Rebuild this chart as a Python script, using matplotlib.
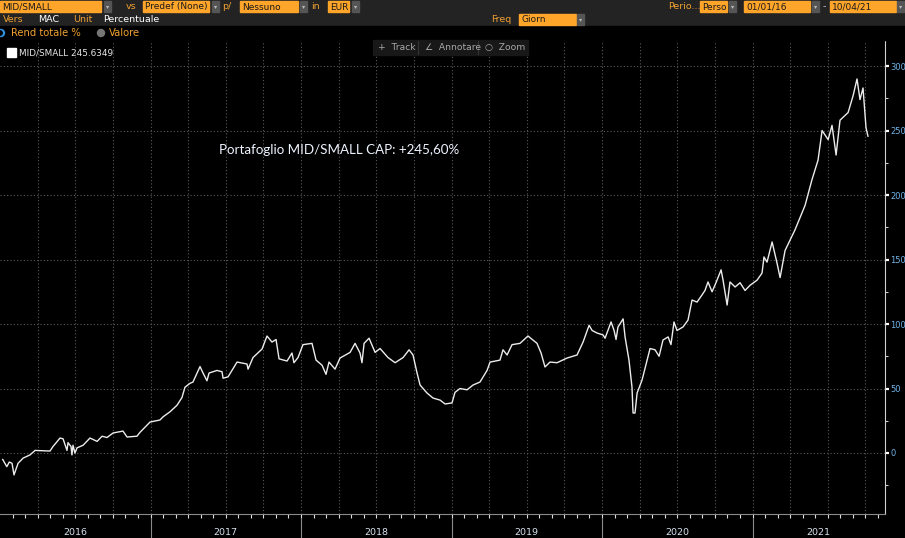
import matplotlib
matplotlib.use('Agg')
import matplotlib.pyplot as plt
import matplotlib.transforms as mtransforms
from matplotlib.patches import Rectangle, Circle
import numpy as np

# serie MID/SMALL, rendimento totale % (anni decimali)
anni = [2016.018, 2016.045, 2016.062, 2016.080, 2016.093, 2016.120, 2016.153, 2016.199,
        2016.233, 2016.332, 2016.352, 2016.399, 2016.419, 2016.445, 2016.452, 2016.472,
        2016.478, 2016.485, 2016.498, 2016.512, 2016.552, 2016.598, 2016.645, 2016.678,
        2016.711, 2016.751, 2016.817, 2016.844, 2016.910, 2016.930, 2016.997,
        2017.063, 2017.083, 2017.130, 2017.176, 2017.209, 2017.229, 2017.262, 2017.282,
        2017.329, 2017.349, 2017.375, 2017.389, 2017.442, 2017.475, 2017.482, 2017.515,
        2017.575, 2017.641, 2017.648, 2017.681, 2017.741, 2017.774, 2017.807, 2017.834,
        2017.854, 2017.907, 2017.940, 2017.953, 2017.980,
        2018.013, 2018.073, 2018.100, 2018.140, 2018.166, 2018.186, 2018.226, 2018.259,
        2018.326, 2018.359, 2018.392, 2018.405, 2018.419, 2018.452, 2018.492, 2018.525,
        2018.578, 2018.625, 2018.678, 2018.718, 2018.744, 2018.771, 2018.791, 2018.837,
        2018.877, 2018.924, 2018.957,
        2019.003, 2019.023, 2019.056, 2019.103, 2019.143, 2019.189, 2019.236, 2019.256,
        2019.322, 2019.342, 2019.369, 2019.402, 2019.455, 2019.508, 2019.568, 2019.595,
        2019.621, 2019.654, 2019.701, 2019.767, 2019.834, 2019.874, 2019.914, 2019.934,
        2019.967,
        2020.007, 2020.020, 2020.060, 2020.080, 2020.093, 2020.106, 2020.140, 2020.153,
        2020.179, 2020.199, 2020.206, 2020.219, 2020.233, 2020.266, 2020.299, 2020.319,
        2020.352, 2020.379, 2020.405, 2020.439, 2020.458, 2020.478, 2020.498, 2020.538,
        2020.571, 2020.598, 2020.631, 2020.664, 2020.684, 2020.704, 2020.731, 2020.757,
        2020.791, 2020.804, 2020.831, 2020.850, 2020.884, 2020.917, 2020.950, 2020.983,
        2021.030, 2021.063, 2021.076, 2021.096, 2021.130, 2021.163, 2021.183, 2021.216,
        2021.282, 2021.349, 2021.395, 2021.435, 2021.462, 2021.502, 2021.528, 2021.555,
        2021.581, 2021.635, 2021.668, 2021.694, 2021.714, 2021.734, 2021.754, 2021.767]
rendimento = [-5, -10.6, -7, -8, -17, -8, -4, -1.5,
              2, 1.5, 5, 11.6, 11, 2, 8, 5,
              -1.5, 6, 0, 4, 6, 11.6, 9, 13,
              12, 15.5, 17, 12.4, 13, 16, 24,
              25.6, 28, 32, 37, 43, 51, 54, 55,
              67, 62, 56, 62, 64, 63, 58, 59,
              70.5, 69, 65, 74, 80.6, 90.7, 86, 88,
              73, 71.3, 77.5, 70, 74,
              84, 85, 72, 68, 61, 70.5, 65, 73.6,
              78, 85, 77.5, 70, 85, 89, 78, 81,
              74, 70, 74, 80, 76, 62, 52.7, 46.5,
              42.6, 41, 38,
              38.8, 47, 50, 49, 52.7, 55, 64, 70.5,
              72, 80, 76, 84, 85, 90.7, 85, 77.5,
              66.7, 70.5, 70, 73.6, 76, 86, 99, 95,
              93,
              91.5, 89, 101.6, 95, 88, 97.7, 104, 90,
              72, 51, 31, 31, 46.5, 56.6, 72, 81,
              80, 75, 87.6, 90, 84, 101.6, 95, 97.7,
              103, 118.6, 117, 122.5, 126, 132.6, 125, 132,
              142, 134, 114.7, 132.6, 128.7, 132, 126, 130,
              134, 139.5, 152, 148, 163.6, 147, 136, 157,
              173, 192, 212, 227, 250, 243, 254, 231,
              258, 264, 277, 290, 274, 283, 252, 245.6]

anni_etichette = ['2016', '2017', '2018', '2019', '2020', '2021']
y_ticks = [0, 50, 100, 150, 200, 250, 300]

ARANCIO = '#ffa52a'
TESTO_AR = '#f0a030'

fig = plt.figure(figsize=(9.05, 5.38), dpi=100, facecolor='black')

# area del grafico
ax = fig.add_axes([0.0, 1 - 514 / 538, 885 / 905, 474 / 538], facecolor='black')
ax.plot(anni, rendimento, color='#ececec', linewidth=1.0, zorder=3)
ax.set_xlim(2016.0, 2021.88)
ax.set_ylim(-47.3, 320.2)

ax.yaxis.tick_right()
ax.set_yticks(y_ticks)
ax.set_yticks(np.arange(-25, 325, 50), minor=True)
ax.tick_params(axis='y', which='major', direction='out', length=3, width=1.6,
               color='white', labelcolor='#6fb2e6', labelsize=6.0, pad=1)
ax.tick_params(axis='y', which='minor', direction='out', length=2, width=0.8, color='#cccccc')
for lab in ax.get_yticklabels():
    lab.set_family('DejaVu Sans Condensed')

ax.set_xticks(np.arange(2016.25, 2021.88, 0.25))
ax.set_xticks(np.arange(2016 + 1 / 12, 2021.88, 1 / 12), minor=True)
ax.tick_params(axis='x', which='both', direction='out', length=3, width=0.8,
               color='#dddddd', labelbottom=False)
ax.grid(True, which='major', color='#5a5a5a', linestyle=(0, (1, 2)), linewidth=0.8)

for lato in ['top', 'left']:
    ax.spines[lato].set_visible(False)
ax.spines['right'].set_color('#d0d0d0')
ax.spines['bottom'].set_color('#8a8a8a')

# separatori e etichette degli anni
trans = mtransforms.blended_transform_factory(ax.transData, ax.transAxes)
for i, et in enumerate(anni_etichette):
    inizio = 2016 + i
    fine = min(inizio + 1, 2021.88)
    if i > 0:
        ax.plot([inizio, inizio], [-0.009, -0.06], color='#8a8a8a', linewidth=0.8,
                transform=trans, clip_on=False)
    ax.text((inizio + fine) / 2, -0.038, et, transform=trans, ha='center', va='center',
            color='#d6e2ee', fontsize=6.8)

# annotazione
ax.text(2017.455, 235, 'Portafoglio MID/SMALL CAP: +245,60%', color='#eef4ff',
        fontsize=9.6, family='Lato', va='center', ha='left')

# overlay in pixel per intestazione, legenda e barra strumenti
ov = fig.add_axes([0, 0, 1, 1], facecolor='none')
ov.set_xlim(0, 905)
ov.set_ylim(538, 0)
ov.axis('off')

ov.add_patch(Rectangle((0, 0), 905, 26, color='#232323', zorder=1))
ov.add_patch(Rectangle((0, 26), 905, 14, color='black', zorder=1))

def box(x, w, testo, y=1, h=11):
    ov.add_patch(Rectangle((x, y), w, h, color=ARANCIO, zorder=2))
    ov.text(x + 2, y + h / 2 + 0.5, testo, color='#1a1a1a', fontsize=6.5,
            va='center', ha='left', zorder=3)

def tendina(x, y=1, h=11):
    ov.add_patch(Rectangle((x, y), 7, h, color='#555555', zorder=2))
    ov.text(x + 3.5, y + h / 2, '▾', color='#bbbbbb', fontsize=4.5,
            va='center', ha='center', zorder=3)

def etichetta(x, y, testo, colore=TESTO_AR, size=6.8):
    ov.text(x, y, testo, color=colore, fontsize=size, va='center', ha='left', zorder=3)

# riga 1
box(0, 101, 'MID/SMALL')
tendina(104)
etichetta(126, 6.5, 'vs')
box(143, 66, 'Predef (None)')
tendina(212)
etichetta(222, 6.5, 'p/')
box(240, 58, 'Nessuno')
tendina(300)
etichetta(311, 6.5, 'in')
box(328, 21, 'EUR')
tendina(352)
etichetta(668, 6.5, 'Perio...')
box(700, 27, 'Perso')
tendina(729)
box(744, 66, '01/01/16')
tendina(812)
etichetta(823, 6.5, '-', colore='#cccccc')
box(830, 66, '10/04/21')
tendina(897)

# riga 2
etichetta(3, 19.5, 'Vers')
etichetta(38, 19.5, 'MAC', colore='white')
etichetta(73, 19.5, 'Unit')
etichetta(103, 19.5, 'Percentuale', colore='white')
etichetta(491, 19.5, 'Freq')
box(519, 57, 'Giorn', y=14, h=11)
tendina(577, y=14)

# riga 3
ov.add_patch(Circle((1, 33), 3.5, color='#2f8fe0', zorder=2))
ov.add_patch(Circle((0, 33), 2.2, color='black', zorder=3))
etichetta(11, 33, 'Rend totale %', size=7.2)
ov.add_patch(Circle((101, 33), 3.5, color='#777777', zorder=2))
etichetta(109, 33, 'Valore', size=7.2)

# legenda
ov.add_patch(Rectangle((7, 48), 9, 9, color='white', zorder=4))
etichetta(19, 53, 'MID/SMALL 245.6349', colore='#e6e6e6', size=6.4)

# barra strumenti
ov.add_patch(Rectangle((373, 40), 155, 15, color='#181818', zorder=4))
for xs in [418, 478]:
    ov.plot([xs, xs], [41, 54], color='#333333', linewidth=0.8, zorder=5)
etichetta(378, 47.5, '+  Track', colore='#a8a8a8', size=6.6)
etichetta(425, 47.5, '∠  Annotare', colore='#a8a8a8', size=6.6)
etichetta(485, 47.5, '○  Zoom', colore='#a8a8a8', size=6.6)
for t in ov.texts[-3:]:
    t.set_zorder(6)

plt.savefig('out.png', dpi=100, facecolor='black')
